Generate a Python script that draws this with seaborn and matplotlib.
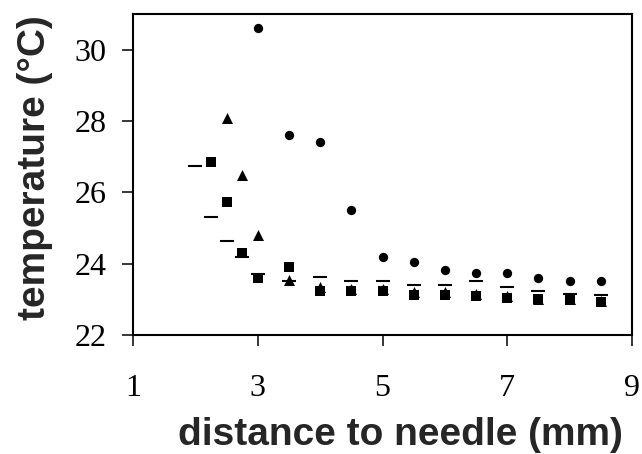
import matplotlib
matplotlib.use("Agg")
import matplotlib.pyplot as plt
import seaborn as sns
import pandas as pd

# ---- data ----
circle_x = [3.0, 3.5, 4.0, 4.5, 5.0, 5.5, 6.0, 6.5, 7.0, 7.5, 8.0, 8.5]
circle_y = [30.6, 27.6, 27.4, 25.5, 24.2, 24.05, 23.82, 23.74, 23.74, 23.6, 23.5, 23.5]

triangle_x = [2.5, 2.75, 3.0, 3.5, 4.0, 4.5, 5.0, 5.5, 6.0, 6.5, 7.0, 7.5, 8.0, 8.5]
triangle_y = [28.08, 26.48, 24.79, 23.55, 23.35, 23.3, 23.3, 23.2, 23.2, 23.15, 23.1, 23.0, 23.0, 22.95]

square_x = [2.25, 2.5, 2.75, 3.0, 3.5, 4.0, 4.5, 5.0, 5.5, 6.0, 6.5, 7.0, 7.5, 8.0, 8.5]
square_y = [26.84, 25.73, 24.3, 23.6, 23.92, 23.22, 23.22, 23.22, 23.12, 23.12, 23.08, 23.05, 23.0, 22.98, 22.92]

dash_x = [2.0, 2.25, 2.5, 2.75, 3.0, 3.5, 4.0, 4.5, 5.0, 5.5, 6.0, 6.5, 7.0, 7.5, 8.0, 8.5]
dash_y = [26.73, 25.3, 24.64, 24.2, 23.72, 23.5, 23.62, 23.5, 23.5, 23.41, 23.41, 23.5, 23.34, 23.24, 23.15, 23.13]

x_ticks = [1, 3, 5, 7, 9]
y_ticks = [22, 24, 26, 28, 30]

sns.set_style("ticks")

fig = plt.figure(figsize=(6.42, 4.54), dpi=100)
ax = fig.add_axes([133/642, (454-335)/454, (632-133)/642, (335-14)/454])

sns.scatterplot(x=circle_x, y=circle_y, marker="o", s=45, color="black",
                edgecolor="black", linewidth=0, ax=ax)
sns.scatterplot(x=triangle_x, y=triangle_y, marker="^", s=63, color="black",
                edgecolor="black", linewidth=0, ax=ax)
sns.scatterplot(x=square_x, y=square_y, marker="s", s=45, color="black",
                edgecolor="black", linewidth=0, ax=ax)
sns.scatterplot(x=dash_x, y=dash_y, marker="_", s=88, color="black",
                linewidth=1.5, ax=ax)

ax.set_xlim(1, 9)
ax.set_ylim(22, 31)
ax.set_xticks(x_ticks)
ax.set_yticks(y_ticks)
ax.set_xticklabels([str(v) for v in x_ticks], family="Liberation Serif", fontsize=23)
ax.set_yticklabels([str(v) for v in y_ticks], family="Liberation Serif", fontsize=23)
ax.tick_params(axis="x", direction="out", length=8, width=1.1, pad=20, colors="black")
ax.tick_params(axis="y", direction="out", length=8, width=1.1, pad=11, colors="black")

for sp in ax.spines.values():
    sp.set_visible(True)
    sp.set_linewidth(1.5)
    sp.set_color("black")

ax.set_xlabel("distance to needle (mm)", family="Liberation Sans", fontweight="bold", fontsize=28)
ax.set_ylabel("temperature (°C)", family="Liberation Sans", fontweight="bold", fontsize=28)
ax.xaxis.set_label_coords(0.535, -0.255)
ax.yaxis.set_label_coords(-0.16, 0.52)

fig.savefig("out.png", dpi=100)
